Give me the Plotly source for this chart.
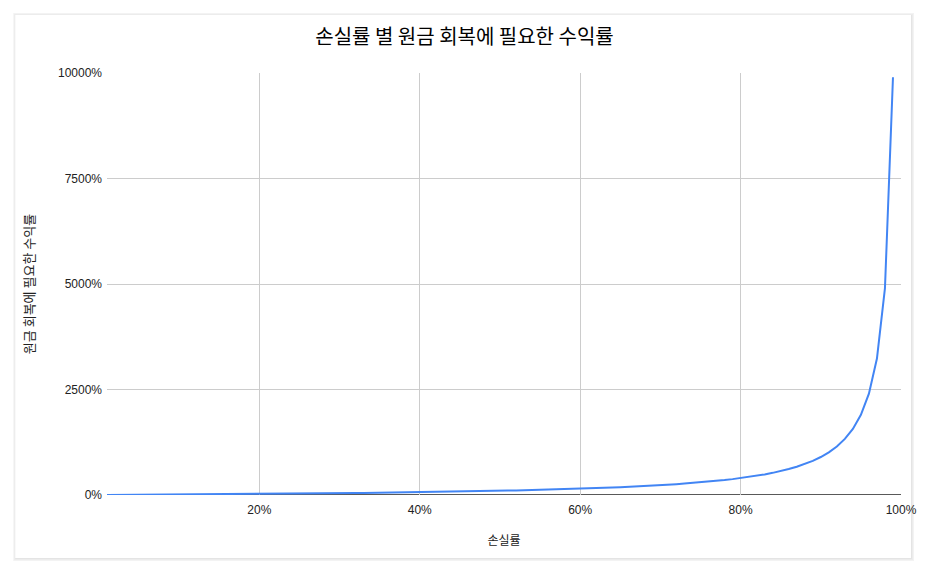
import plotly.graph_objects as go

# Loss rate (%) and required recovery return (%)
loss_rate = list(range(1, 100))
required_return = [
    1.0, 2.0, 3.1, 4.2, 5.3, 6.4, 7.5, 8.7, 9.9, 11.1,
    12.4, 13.6, 14.9, 16.3, 17.6, 19.0, 20.5, 22.0, 23.5, 25.0,
    26.6, 28.2, 29.9, 31.6, 33.3, 35.1, 37.0, 38.9, 40.8, 42.9,
    44.9, 47.1, 49.3, 51.5, 53.8, 56.3, 58.7, 61.3, 63.9, 66.7,
    69.5, 72.4, 75.4, 78.6, 81.8, 85.2, 88.7, 92.3, 96.1, 100.0,
    104.1, 108.3, 112.8, 117.4, 122.2, 127.3, 132.6, 138.1, 143.9, 150.0,
    156.4, 163.2, 170.3, 177.8, 185.7, 194.1, 203.0, 212.5, 222.6, 233.3,
    244.8, 257.1, 270.4, 284.6, 300.0, 316.7, 334.8, 354.5, 376.2, 400.0,
    426.3, 455.6, 488.2, 525.0, 566.7, 614.3, 669.2, 733.3, 809.1, 900.0,
    1011.1, 1150.0, 1328.6, 1566.7, 1900.0, 2400.0, 3233.3, 4900.0, 9900.0,
]

x_ticks = [20, 40, 60, 80, 100]
x_tick_labels = ["20%", "40%", "60%", "80%", "100%"]
y_ticks = [0, 2500, 5000, 7500, 10000]
y_tick_labels = ["0%", "2500%", "5000%", "7500%", "10000%"]

title_text = "손실률 별 원금 회복에 필요한 수익률"
x_title = "손실률"
y_title = "원금 회복에 필요한 수익률"

W, H = 929, 574
L, R, T, B = 107, 903, 73, 495
pw, ph = R - L, B - T

def px_x(p):
    return (p - L) / pw

def px_y(p):
    return (B - p) / ph

fig = go.Figure()
fig.add_trace(go.Scatter(
    x=loss_rate, y=required_return, mode="lines",
    line=dict(color="#4285F4", width=2), showlegend=False,
))

shapes = []
# card shadow
for off, col in [(3, "#f3f3f3"), (2, "#ececec"), (1, "#e4e4e4")]:
    shapes.append(dict(type="rect", xref="paper", yref="paper", layer="below",
                       x0=px_x(15 - off + 1), x1=px_x(913 + off), y0=px_y(558 + off), y1=px_y(15 - off + 1),
                       fillcolor=col, line=dict(width=0)))
shapes.append(dict(type="rect", xref="paper", yref="paper", layer="below",
                   x0=px_x(15), x1=px_x(913), y0=px_y(558), y1=px_y(15),
                   fillcolor="#ffffff", line=dict(width=0)))

fig.update_layout(
    width=W, height=H,
    margin=dict(l=L, r=W - R, t=T, b=H - B),
    paper_bgcolor="#ffffff", plot_bgcolor="rgba(0,0,0,0)",
    shapes=shapes,
    title=dict(text=title_text, x=0.5, xref="container", xanchor="center",
               y=1 - 37 / H, yanchor="middle",
               font=dict(family="Noto Sans CJK KR", size=20, color="#000000")),
    font=dict(family="Liberation Sans, Arial", size=12, color="#222222"),
    xaxis=dict(range=[1, 100], tickmode="array", tickvals=x_ticks, ticktext=x_tick_labels,
               showgrid=True, gridcolor="#cccccc", gridwidth=1,
               zeroline=False, showline=False, ticks="", ticklabelstandoff=6,
               tickfont=dict(family="Liberation Sans, Arial", size=12, color="#222222"),
               title=dict(text=x_title, standoff=20,
                          font=dict(family="Noto Sans CJK KR", size=12, color="#222222"))),
    yaxis=dict(range=[0, 10000], tickmode="array", tickvals=y_ticks, ticktext=y_tick_labels,
               showgrid=True, gridcolor="#cccccc", gridwidth=1,
               zeroline=False, showline=False, ticks="", ticklabelstandoff=4,
               tickfont=dict(family="Liberation Sans, Arial", size=12, color="#222222"),
               title=dict(text=y_title, standoff=20,
                          font=dict(family="Noto Sans CJK KR", size=13, color="#222222"))),
)

# dark baseline at y = 0
fig.add_shape(type="line", xref="paper", yref="y", x0=0, x1=1, y0=0, y1=0,
              line=dict(color="#222222", width=1.5), layer="below")

fig.write_html("out.html")
